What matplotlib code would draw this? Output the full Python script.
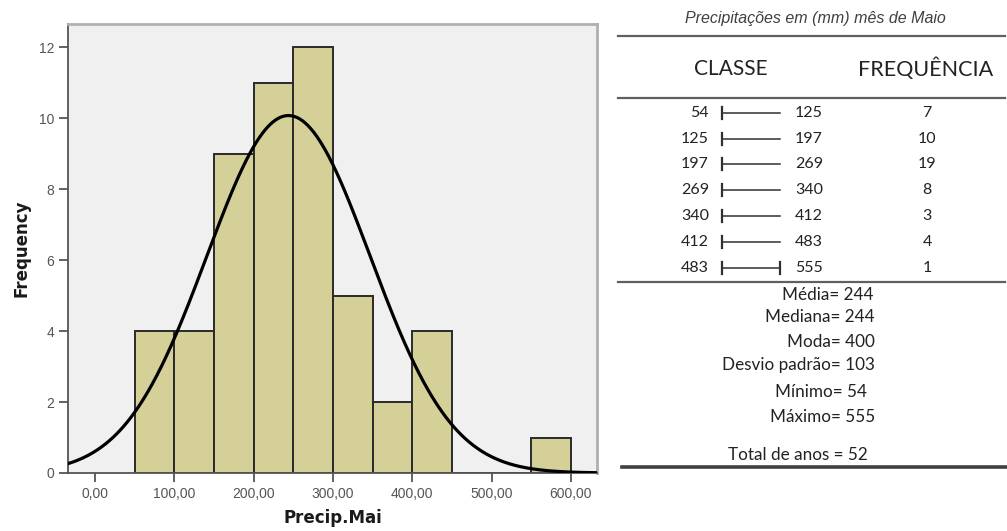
import numpy as np
import matplotlib.pyplot as plt
from matplotlib.lines import Line2D

# Histogram of May precipitation (bins of 50 mm)
bin_edges = [50, 100, 150, 200, 250, 300, 350, 400, 450, 500, 550, 600]
bin_counts = [4, 4, 9, 11, 12, 5, 2, 4, 0, 0, 1]
x_ticks = [0, 100, 200, 300, 400, 500, 600]
y_ticks = [0, 2, 4, 6, 8, 10, 12]

# Fitted normal curve parameters
mean_mm = 244
sd_mm = 103
n_years = 52

# Frequency table
class_low = [54, 125, 197, 269, 340, 412, 483]
class_high = [125, 197, 269, 340, 412, 483, 555]
class_freq = [7, 10, 19, 8, 3, 4, 1]

stats_lines = ["Média= 244", "Mediana= 244", "Moda= 400", "Desvio padrão= 103",
               "Mínimo= 54", "Máximo= 555"]
total_line = "Total de anos = 52"
table_title = "Precipitações em (mm) mês de Maio"

W, H = 1007, 531
fig = plt.figure(figsize=(W / 100, H / 100), dpi=100)
fig.patch.set_facecolor("white")


def fx(px):
    return px / W


def fy(py):
    return 1 - py / H


# ---- histogram panel ----
ax = fig.add_axes([fx(68), fy(473), fx(597) - fx(68), fy(24) - fy(473)])
ax.set_facecolor("#f0f0f0")
widths = np.diff(bin_edges)
ax.bar(bin_edges[:-1], bin_counts, width=widths, align="edge",
       color="#d4d098", edgecolor="#2a2a2a", linewidth=1.4, zorder=2)

xs = np.linspace(-40, 640, 600)
pdf = n_years * widths[0] / (sd_mm * np.sqrt(2 * np.pi)) * np.exp(-0.5 * ((xs - mean_mm) / sd_mm) ** 2)
ax.plot(xs, pdf, color="black", linewidth=2.3, zorder=3)

ax.set_xlim(-34, 633)
ax.set_ylim(0, 12.65)
ax.set_xticks(x_ticks)
ax.set_xticklabels([f"{v:.2f}".replace(".", ",") for v in x_ticks])
ax.set_yticks(y_ticks)
ax.tick_params(axis="both", direction="out", length=6.5, width=1.3,
               colors="#555555", labelsize=10, labelcolor="#555555")
for lab in ax.get_xticklabels() + ax.get_yticklabels():
    lab.set_family("Liberation Sans")
for s in ("left", "bottom"):
    ax.spines[s].set_color("#555555")
    ax.spines[s].set_linewidth(1.3)
for s in ("top", "right"):
    ax.spines[s].set_color("#b0b0b0")
    ax.spines[s].set_linewidth(2)
ax.set_ylabel("Frequency", fontsize=12, fontweight="bold", color="#1a1a1a", labelpad=6)
ax.set_xlabel("Precip.Mai", fontsize=12, fontweight="bold", color="#1a1a1a", labelpad=6)

# ---- frequency table panel ----
tfont = "Lato"
tcol = "#222222"
fig.text(fx(815), fy(19), table_title, fontsize=11.5, style="italic",
         family="Liberation Sans", color="#404040", ha="center", va="center")
fig.add_artist(Line2D([fx(618), fx(1005)], [fy(36), fy(36)], color="#606060", lw=1.6))
fig.text(fx(731), fy(69), "CLASSE", fontsize=15, family=tfont, color=tcol,
         ha="center", va="center")
fig.text(fx(926), fy(69), "FREQUÊNCIA", fontsize=15.5, family=tfont, color=tcol,
         ha="center", va="center")
fig.add_artist(Line2D([fx(618), fx(1005)], [fy(98), fy(98)], color="#606060", lw=1.6))

row_y = [113, 139, 164, 190, 216, 242, 268]
for i, (lo, hi, f) in enumerate(zip(class_low, class_high, class_freq)):
    y = fy(row_y[i])
    fig.text(fx(709), y, str(lo), fontsize=11.5, family=tfont, color=tcol,
             ha="right", va="center")
    fig.text(fx(795), y, str(hi), fontsize=11.5, family=tfont, color=tcol,
             ha="left", va="center")
    fig.text(fx(927), y, str(f), fontsize=11.5, family=tfont, color=tcol,
             ha="center", va="center")
    fig.add_artist(Line2D([fx(722), fx(780)], [y, y], color="#303030", lw=1.1))
    fig.add_artist(Line2D([fx(722), fx(722)], [y - 0.011, y + 0.011], color="#303030", lw=1.6))
    if i == len(class_low) - 1:
        fig.add_artist(Line2D([fx(780), fx(780)], [y - 0.011, y + 0.011], color="#303030", lw=1.6))

fig.add_artist(Line2D([fx(618), fx(1005)], [fy(282), fy(282)], color="#606060", lw=1.6))

stats_y = [295, 317, 342, 365, 392, 417]
stats_right = [873, 875, 875, 875, 867, 875]
for txt, yy, xr in zip(stats_lines, stats_y, stats_right):
    fig.text(fx(xr), fy(yy), txt, fontsize=12.3, family=tfont, color=tcol,
             ha="right", va="center")
fig.text(fx(868), fy(455), total_line, fontsize=12.3, family=tfont, color=tcol,
         ha="right", va="center")
fig.add_artist(Line2D([fx(622), fx(1007)], [fy(467), fy(467)], color="#404040", lw=2.6))

fig.savefig("out.png", dpi=100)
